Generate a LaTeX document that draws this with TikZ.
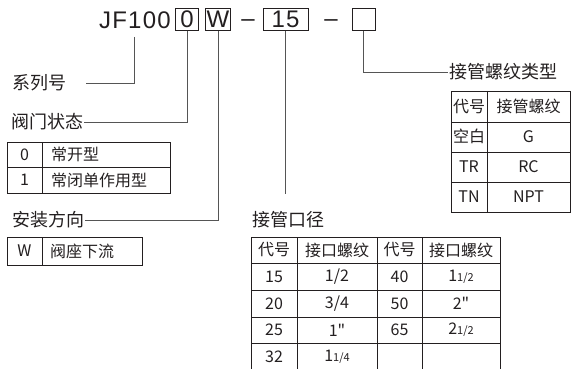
\documentclass[tikz,border=0pt]{standalone}
\usepackage{fontspec}
\setmainfont{Noto Sans CJK SC}
\newfontfamily\codefont[LetterSpace=5]{Liberation Sans}
\newfontfamily\quotefont{Noto Sans CJK SC}
\usetikzlibrary{positioning}
\definecolor{linegray}{HTML}{555555}
\definecolor{inkgray}{HTML}{231F20}
% 带分数：大整数 + 小分数
\newcommand\sizefrac[2]{#1{\fontsize{11}{12}\selectfont#2}}
\newcommand\inch{{\quotefont"}}
\tikzset{
  conn/.style={draw=linegray, line width=0.8pt},
  grid/.style={draw=inkgray, line width=0.8pt},
  codefnt/.style={text=inkgray, font=\codefont\fontsize{24}{26}\selectfont},
  codebox/.style={codefnt, draw=inkgray, line width=0.9pt, minimum height=21.5pt, inner sep=0.5pt},
  lbl/.style={font=\fontsize{18}{20}\selectfont, inner sep=1pt, text=inkgray},
  cell/.style={font=\fontsize{16}{18}\selectfont, inner sep=0pt, text=inkgray},
}
\begin{document}
\begin{tikzpicture}[x=1pt,y=-1pt]
  \useasboundingbox (0,0) rectangle (571,369);
  % 型号
  \node[codefnt, anchor=base west, inner sep=0pt] (code) at (99,29) {JF100};
  \node[codebox, minimum width=23pt] (box0) at (187,19.5) {0};
  \node[codebox, minimum width=25pt] (boxW) at (218,19.5) {W};
  \node[codefnt, anchor=base, inner sep=0pt] (dash1) at (248,27) {–};
  \node[codebox, minimum width=45pt] (box15) at (285.5,19.5) {15};
  \node[codefnt, anchor=base, inner sep=0pt] (dash2) at (331,27) {–};
  \node[codebox, minimum width=23pt] (boxT) at (363.5,19.5) {};

  % 说明文字
  \node[lbl, anchor=west] (lblSeries) at (11,83) {系列号};
  \node[lbl, anchor=west] (lblState) at (10,122) {阀门状态};
  \node[lbl, anchor=west] (lblMount) at (11,220) {安装方向};
  \node[lbl, anchor=west] (lblSize) at (251,220) {接管口径};
  \node[lbl, anchor=west] (lblThread) at (448,72) {接管螺纹类型};

  % 引线
  \coordinate (seriesTap) at (134,37);
  \coordinate (sizeEnd) at (285.5,194);
  \draw[conn, shorten >=19pt] (seriesTap) |- (lblSeries.east);
  \draw[conn] (box0.south) |- (lblState.east);
  \draw[conn] (boxW.south) |- (lblMount.east);
  \draw[conn] (box15.south) -- (sizeEnd);
  \draw[conn] (boxT.south) |- (lblThread.west);

  % 阀门状态表
  \draw[grid] (7,142) rectangle (170,193);
  \draw[grid] (7,167.5) -- (170,167.5) (42,142) -- (42,193);
  \node[cell] (state0) at (24.5,154.5) {0};
  \node[cell, anchor=west] (stateNO) at (51,154.5) {常开型};
  \node[cell] (state1) at (24.5,180) {1};
  \node[cell, anchor=west] (stateNC) at (51,180) {常闭单作用型};

  % 安装方向表
  \draw[grid] (7,237) rectangle (142,265);
  \draw[grid] (42,237) -- (42,265);
  \node[cell] (mountW) at (24.5,251) {W};
  \node[cell, anchor=west] (mountSeat) at (50,251) {阀座下流};

  % 接管螺纹类型表
  \draw[grid] (451,91) rectangle (570,212);
  \foreach \y in {122,152,182}
    \draw[grid] (451,\y) -- (570,\y);
  \draw[grid] (487,91) -- (487,212);
  \foreach \a/\b [count=\i] in {代号/接管螺纹,空白/G,TR/RC,TN/NPT} {
    \node[cell] (thrA\i) at (469,{106.5+30.2*(\i-1)}) {\a};
    \node[cell] (thrB\i) at (528.5,{106.5+30.2*(\i-1)}) {\b};
  }

  % 接管口径表
  \draw[grid] (251,237) rectangle (500,371);
  \foreach \y in {263.5,290,317,343.5}
    \draw[grid] (251,\y) -- (500,\y);
  \foreach \x in {297,377,422}
    \draw[grid] (\x,237) -- (\x,371);
  \foreach \a/\b/\c/\d [count=\i] in {代号/接口螺纹/代号/接口螺纹,
      15/{1/2}/40/{\sizefrac{1}{1/2}},
      20/{3/4}/50/{2\inch},
      25/{1\inch}/65/{\sizefrac{2}{1/2}},
      32/{\sizefrac{1}{1/4}}/{}/{}} {
    \node[cell] (sizeA\i) at (274,{250+26.7*(\i-1)}) {\a};
    \node[cell] (sizeB\i) at (337,{250+26.7*(\i-1)}) {\b};
    \node[cell] (sizeC\i) at (399.5,{250+26.7*(\i-1)}) {\c};
    \node[cell] (sizeD\i) at (461,{250+26.7*(\i-1)}) {\d};
  }
\end{tikzpicture}
\end{document}
